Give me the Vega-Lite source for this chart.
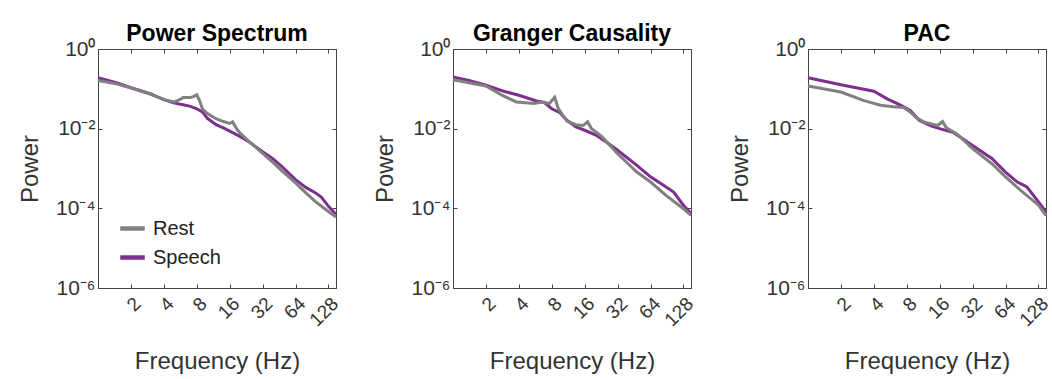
{
  "$schema": "https://vega.github.io/schema/vega-lite/v6.json",
  "padding": {"left": 18, "top": 22, "right": 0, "bottom": 0},
  "background": "white",
  "data": {"values": [
    {"panel":"PS","condition":"Speech","freq":1,"power":0.1905},
    {"panel":"PS","condition":"Speech","freq":1.5,"power":0.141},
    {"panel":"PS","condition":"Speech","freq":2,"power":0.107},
    {"panel":"PS","condition":"Speech","freq":3,"power":0.0759},
    {"panel":"PS","condition":"Speech","freq":4,"power":0.0537},
    {"panel":"PS","condition":"Speech","freq":5,"power":0.0437},
    {"panel":"PS","condition":"Speech","freq":6,"power":0.0398},
    {"panel":"PS","condition":"Speech","freq":7,"power":0.0363},
    {"panel":"PS","condition":"Speech","freq":8,"power":0.0316},
    {"panel":"PS","condition":"Speech","freq":9,"power":0.0263},
    {"panel":"PS","condition":"Speech","freq":10,"power":0.0182},
    {"panel":"PS","condition":"Speech","freq":12,"power":0.0126},
    {"panel":"PS","condition":"Speech","freq":14,"power":0.0105},
    {"panel":"PS","condition":"Speech","freq":16,"power":0.0087},
    {"panel":"PS","condition":"Speech","freq":20,"power":0.00631},
    {"panel":"PS","condition":"Speech","freq":24,"power":0.00468},
    {"panel":"PS","condition":"Speech","freq":32,"power":0.00263},
    {"panel":"PS","condition":"Speech","freq":40,"power":0.00174},
    {"panel":"PS","condition":"Speech","freq":48,"power":0.00112},
    {"panel":"PS","condition":"Speech","freq":64,"power":0.000525},
    {"panel":"PS","condition":"Speech","freq":80,"power":0.000331},
    {"panel":"PS","condition":"Speech","freq":96,"power":0.000251},
    {"panel":"PS","condition":"Speech","freq":110,"power":0.000191},
    {"panel":"PS","condition":"Speech","freq":128,"power":0.000112},
    {"panel":"PS","condition":"Speech","freq":150,"power":0.0000708},
    {"panel":"PS","condition":"Rest","freq":1,"power":0.162},
    {"panel":"PS","condition":"Rest","freq":1.5,"power":0.132},
    {"panel":"PS","condition":"Rest","freq":2,"power":0.105},
    {"panel":"PS","condition":"Rest","freq":3,"power":0.0741},
    {"panel":"PS","condition":"Rest","freq":4,"power":0.0537},
    {"panel":"PS","condition":"Rest","freq":5,"power":0.0468},
    {"panel":"PS","condition":"Rest","freq":5.5,"power":0.0525},
    {"panel":"PS","condition":"Rest","freq":6,"power":0.0603},
    {"panel":"PS","condition":"Rest","freq":7,"power":0.0603},
    {"panel":"PS","condition":"Rest","freq":7.5,"power":0.0646},
    {"panel":"PS","condition":"Rest","freq":8,"power":0.0708},
    {"panel":"PS","condition":"Rest","freq":8.5,"power":0.0501},
    {"panel":"PS","condition":"Rest","freq":9,"power":0.0316},
    {"panel":"PS","condition":"Rest","freq":10,"power":0.024},
    {"panel":"PS","condition":"Rest","freq":12,"power":0.0178},
    {"panel":"PS","condition":"Rest","freq":14,"power":0.0151},
    {"panel":"PS","condition":"Rest","freq":16,"power":0.0135},
    {"panel":"PS","condition":"Rest","freq":17,"power":0.0148},
    {"panel":"PS","condition":"Rest","freq":18.5,"power":0.01},
    {"panel":"PS","condition":"Rest","freq":20,"power":0.00759},
    {"panel":"PS","condition":"Rest","freq":24,"power":0.00479},
    {"panel":"PS","condition":"Rest","freq":32,"power":0.0024},
    {"panel":"PS","condition":"Rest","freq":40,"power":0.00141},
    {"panel":"PS","condition":"Rest","freq":48,"power":0.000871},
    {"panel":"PS","condition":"Rest","freq":64,"power":0.000437},
    {"panel":"PS","condition":"Rest","freq":80,"power":0.00024},
    {"panel":"PS","condition":"Rest","freq":96,"power":0.000151},
    {"panel":"PS","condition":"Rest","freq":128,"power":0.0000832},
    {"panel":"PS","condition":"Rest","freq":150,"power":0.0000603},
    {"panel":"GC","condition":"Speech","freq":1,"power":0.1995},
    {"panel":"GC","condition":"Speech","freq":1.4,"power":0.162},
    {"panel":"GC","condition":"Speech","freq":2,"power":0.123},
    {"panel":"GC","condition":"Speech","freq":2.9,"power":0.0871},
    {"panel":"GC","condition":"Speech","freq":4,"power":0.0692},
    {"panel":"GC","condition":"Speech","freq":5.9,"power":0.049},
    {"panel":"GC","condition":"Speech","freq":6.8,"power":0.0457},
    {"panel":"GC","condition":"Speech","freq":8,"power":0.0316},
    {"panel":"GC","condition":"Speech","freq":9.5,"power":0.0251},
    {"panel":"GC","condition":"Speech","freq":11,"power":0.0162},
    {"panel":"GC","condition":"Speech","freq":13.3,"power":0.011},
    {"panel":"GC","condition":"Speech","freq":16,"power":0.00912},
    {"panel":"GC","condition":"Speech","freq":20.5,"power":0.00676},
    {"panel":"GC","condition":"Speech","freq":25,"power":0.00468},
    {"panel":"GC","condition":"Speech","freq":32,"power":0.00288},
    {"panel":"GC","condition":"Speech","freq":48,"power":0.0012},
    {"panel":"GC","condition":"Speech","freq":64,"power":0.000617},
    {"panel":"GC","condition":"Speech","freq":84,"power":0.00038},
    {"panel":"GC","condition":"Speech","freq":104,"power":0.000257},
    {"panel":"GC","condition":"Speech","freq":128,"power":0.00012},
    {"panel":"GC","condition":"Speech","freq":150,"power":0.0000741},
    {"panel":"GC","condition":"Rest","freq":1,"power":0.17},
    {"panel":"GC","condition":"Rest","freq":2,"power":0.1175},
    {"panel":"GC","condition":"Rest","freq":2.8,"power":0.0692},
    {"panel":"GC","condition":"Rest","freq":3.8,"power":0.0468},
    {"panel":"GC","condition":"Rest","freq":5.5,"power":0.0427},
    {"panel":"GC","condition":"Rest","freq":6.6,"power":0.0468},
    {"panel":"GC","condition":"Rest","freq":7.6,"power":0.0427},
    {"panel":"GC","condition":"Rest","freq":8.5,"power":0.0617},
    {"panel":"GC","condition":"Rest","freq":9.2,"power":0.0316},
    {"panel":"GC","condition":"Rest","freq":11,"power":0.0155},
    {"panel":"GC","condition":"Rest","freq":13.3,"power":0.0126},
    {"panel":"GC","condition":"Rest","freq":15.5,"power":0.012},
    {"panel":"GC","condition":"Rest","freq":17,"power":0.0148},
    {"panel":"GC","condition":"Rest","freq":18.5,"power":0.01},
    {"panel":"GC","condition":"Rest","freq":23,"power":0.00631},
    {"panel":"GC","condition":"Rest","freq":32,"power":0.00234},
    {"panel":"GC","condition":"Rest","freq":48,"power":0.000813},
    {"panel":"GC","condition":"Rest","freq":64,"power":0.000457},
    {"panel":"GC","condition":"Rest","freq":88,"power":0.000214},
    {"panel":"GC","condition":"Rest","freq":128,"power":0.0000977},
    {"panel":"GC","condition":"Rest","freq":150,"power":0.0000661},
    {"panel":"PAC","condition":"Speech","freq":1,"power":0.1905},
    {"panel":"PAC","condition":"Speech","freq":2,"power":0.126},
    {"panel":"PAC","condition":"Speech","freq":4,"power":0.0871},
    {"panel":"PAC","condition":"Speech","freq":5.3,"power":0.0562},
    {"panel":"PAC","condition":"Speech","freq":7,"power":0.0389},
    {"panel":"PAC","condition":"Speech","freq":8.6,"power":0.0288},
    {"panel":"PAC","condition":"Speech","freq":10.4,"power":0.0162},
    {"panel":"PAC","condition":"Speech","freq":13.3,"power":0.0117},
    {"panel":"PAC","condition":"Speech","freq":16,"power":0.01},
    {"panel":"PAC","condition":"Speech","freq":21.5,"power":0.00794},
    {"panel":"PAC","condition":"Speech","freq":32,"power":0.0038},
    {"panel":"PAC","condition":"Speech","freq":48,"power":0.00178},
    {"panel":"PAC","condition":"Speech","freq":64,"power":0.000813},
    {"panel":"PAC","condition":"Speech","freq":82,"power":0.000457},
    {"panel":"PAC","condition":"Speech","freq":100,"power":0.000347},
    {"panel":"PAC","condition":"Speech","freq":125,"power":0.000158},
    {"panel":"PAC","condition":"Speech","freq":150,"power":0.0000813},
    {"panel":"PAC","condition":"Rest","freq":1,"power":0.1175},
    {"panel":"PAC","condition":"Rest","freq":2,"power":0.0832},
    {"panel":"PAC","condition":"Rest","freq":3.2,"power":0.0513},
    {"panel":"PAC","condition":"Rest","freq":4.6,"power":0.0389},
    {"panel":"PAC","condition":"Rest","freq":6,"power":0.0355},
    {"panel":"PAC","condition":"Rest","freq":7.5,"power":0.0339},
    {"panel":"PAC","condition":"Rest","freq":8.6,"power":0.0263},
    {"panel":"PAC","condition":"Rest","freq":9.6,"power":0.0195},
    {"panel":"PAC","condition":"Rest","freq":11.4,"power":0.0148},
    {"panel":"PAC","condition":"Rest","freq":15.3,"power":0.012},
    {"panel":"PAC","condition":"Rest","freq":17,"power":0.0151},
    {"panel":"PAC","condition":"Rest","freq":18.4,"power":0.0105},
    {"panel":"PAC","condition":"Rest","freq":23,"power":0.00741},
    {"panel":"PAC","condition":"Rest","freq":32,"power":0.00316},
    {"panel":"PAC","condition":"Rest","freq":48,"power":0.00132},
    {"panel":"PAC","condition":"Rest","freq":64,"power":0.000617},
    {"panel":"PAC","condition":"Rest","freq":88,"power":0.000282},
    {"panel":"PAC","condition":"Rest","freq":128,"power":0.00012},
    {"panel":"PAC","condition":"Rest","freq":150,"power":0.0000661}
  ]},
  "spacing": 30,
  "resolve": {"legend": {"color": "independent"}, "scale": {"color": "shared"}},
  "hconcat": [
    {
      "title": "Power Spectrum",
      "width": 238, "height": 239,
      "transform": [{"filter": "datum.panel === 'PS'"}],
      "resolve": {"axis": {"x": "independent", "y": "independent"}},
      "layer": [
        {
          "mark": {"type": "line", "opacity": 0},
          "encoding": {
            "x": {"field": "freq", "type": "quantitative", "scale": {"type": "log", "base": 2, "domain": [1, 150], "nice": false}, "axis": {"orient": "top", "values": [2,4,8,16,32,64,128], "labels": false, "title": null, "domain": false}},
            "y": {"field": "power", "type": "quantitative", "scale": {"type": "log", "domain": [0.000001, 1], "nice": false}, "axis": {"orient": "right", "values": [0.000001, 0.0001, 0.01, 1], "labels": false, "title": null, "domain": false}}
          }
        },
        {
          "mark": {"type": "line", "strokeWidth": 3},
          "encoding": {
            "x": {"field": "freq", "type": "quantitative", "scale": {"type": "log", "base": 2, "domain": [1, 150], "nice": false}, "axis": {"orient": "bottom", "values": [2,4,8,16,32,64,128], "title": "Frequency (Hz)"}},
            "y": {"field": "power", "type": "quantitative", "scale": {"type": "log", "domain": [0.000001, 1], "nice": false}, "axis": {"orient": "left", "values": [0.000001, 0.0001, 0.01, 1], "title": "Power", "labelExpr": "datum.value > 0.5 ? '10⁰' : datum.value > 0.005 ? '10⁻²' : datum.value > 0.00005 ? '10⁻⁴' : '10⁻⁶'"}},
            "color": {"field": "condition", "type": "nominal", "scale": {"domain": ["Rest", "Speech"], "range": ["#808080", "#7E2F8E"]}, "legend": {"orient": "bottom-left", "title": null, "symbolType": "stroke", "symbolStrokeWidth": 4.5, "symbolSize": 600, "labelFontSize": 20, "labelFont": "Liberation Sans", "labelColor": "#222", "rowPadding": 4, "offset": 20, "labelOffset": 6}}
          }
        }
      ]
    },
    {
      "title": "Granger Causality",
      "width": 238, "height": 239,
      "transform": [{"filter": "datum.panel === 'GC'"}],
      "resolve": {"axis": {"x": "independent", "y": "independent"}},
      "layer": [
        {
          "mark": {"type": "line", "opacity": 0},
          "encoding": {
            "x": {"field": "freq", "type": "quantitative", "scale": {"type": "log", "base": 2, "domain": [1, 150], "nice": false}, "axis": {"orient": "top", "values": [2,4,8,16,32,64,128], "labels": false, "title": null, "domain": false}},
            "y": {"field": "power", "type": "quantitative", "scale": {"type": "log", "domain": [0.000001, 1], "nice": false}, "axis": {"orient": "right", "values": [0.000001, 0.0001, 0.01, 1], "labels": false, "title": null, "domain": false}}
          }
        },
        {
          "mark": {"type": "line", "strokeWidth": 3},
          "encoding": {
            "x": {"field": "freq", "type": "quantitative", "scale": {"type": "log", "base": 2, "domain": [1, 150], "nice": false}, "axis": {"orient": "bottom", "values": [2,4,8,16,32,64,128], "title": "Frequency (Hz)"}},
            "y": {"field": "power", "type": "quantitative", "scale": {"type": "log", "domain": [0.000001, 1], "nice": false}, "axis": {"orient": "left", "values": [0.000001, 0.0001, 0.01, 1], "title": "Power", "labelExpr": "datum.value > 0.5 ? '10⁰' : datum.value > 0.005 ? '10⁻²' : datum.value > 0.00005 ? '10⁻⁴' : '10⁻⁶'"}},
            "color": {"field": "condition", "type": "nominal", "scale": {"domain": ["Rest", "Speech"], "range": ["#808080", "#7E2F8E"]}, "legend": null}
          }
        }
      ]
    },
    {
      "title": "PAC",
      "width": 238, "height": 239,
      "transform": [{"filter": "datum.panel === 'PAC'"}],
      "resolve": {"axis": {"x": "independent", "y": "independent"}},
      "layer": [
        {
          "mark": {"type": "line", "opacity": 0},
          "encoding": {
            "x": {"field": "freq", "type": "quantitative", "scale": {"type": "log", "base": 2, "domain": [1, 150], "nice": false}, "axis": {"orient": "top", "values": [2,4,8,16,32,64,128], "labels": false, "title": null, "domain": false}},
            "y": {"field": "power", "type": "quantitative", "scale": {"type": "log", "domain": [0.000001, 1], "nice": false}, "axis": {"orient": "right", "values": [0.000001, 0.0001, 0.01, 1], "labels": false, "title": null, "domain": false}}
          }
        },
        {
          "mark": {"type": "line", "strokeWidth": 3},
          "encoding": {
            "x": {"field": "freq", "type": "quantitative", "scale": {"type": "log", "base": 2, "domain": [1, 150], "nice": false}, "axis": {"orient": "bottom", "values": [2,4,8,16,32,64,128], "title": "Frequency (Hz)"}},
            "y": {"field": "power", "type": "quantitative", "scale": {"type": "log", "domain": [0.000001, 1], "nice": false}, "axis": {"orient": "left", "values": [0.000001, 0.0001, 0.01, 1], "title": "Power", "labelExpr": "datum.value > 0.5 ? '10⁰' : datum.value > 0.005 ? '10⁻²' : datum.value > 0.00005 ? '10⁻⁴' : '10⁻⁶'"}},
            "color": {"field": "condition", "type": "nominal", "scale": {"domain": ["Rest", "Speech"], "range": ["#808080", "#7E2F8E"]}, "legend": null}
          }
        }
      ]
    }
  ],
  "config": {
    "font": "Liberation Sans",
    "view": {"stroke": "#444", "strokeWidth": 1},
    "title": {"fontSize": 23, "fontWeight": "bold", "font": "Liberation Sans", "color": "#000", "offset": -8},
    "axis": {"grid": false, "domainColor": "#444", "tickColor": "#444", "tickSize": -4, "labelColor": "#333", "titleColor": "#333", "titleFontWeight": "normal", "titleFont": "Liberation Sans", "labelFont": "Liberation Sans", "labelOverlap": false, "labelFlush": false},
    "axisX": {"labelAngle": -45, "labelAlign": "right", "labelBaseline": "top", "labelFontSize": 19, "labelPadding": 10, "labelDx": 10, "labelDy": 6, "titleFontSize": 24, "titlePadding": 20},
    "axisY": {"labelFontSize": 21, "labelPadding": 7, "titleFontSize": 24, "titlePadding": 13}
  }
}
